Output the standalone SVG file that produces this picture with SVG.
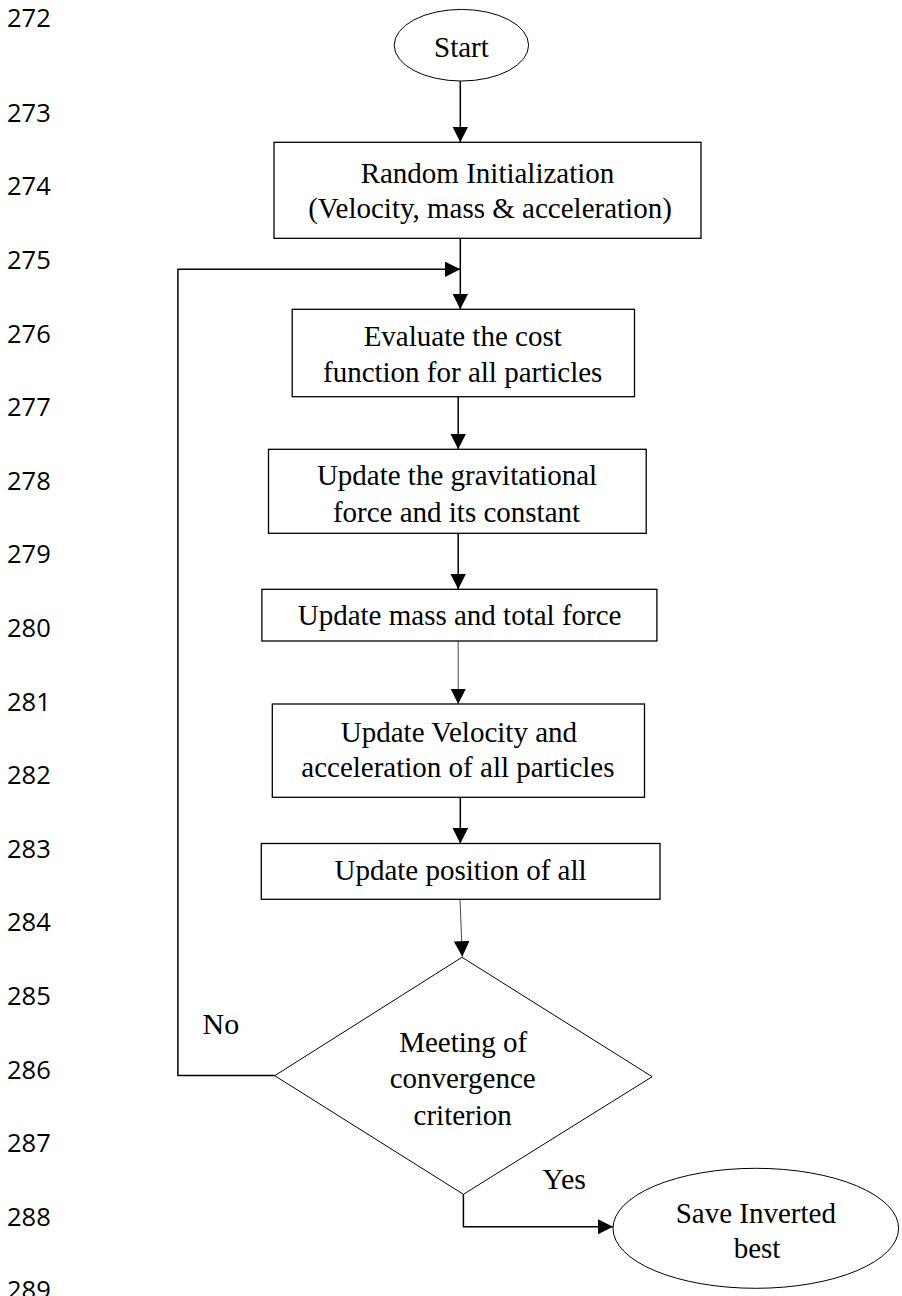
<svg xmlns="http://www.w3.org/2000/svg" width="902" height="1296" viewBox="0 0 902 1296">
<style>
.ln{font-family:"Open Sans","Liberation Sans",sans-serif;font-size:25.5px;fill:#000}
.t{font-family:"Liberation Serif","Times New Roman",serif;font-size:29px;fill:#000;text-anchor:middle}
.lb{font-family:"Liberation Serif","Times New Roman",serif;font-size:30px;fill:#000}
.box{fill:#fff;stroke:#000;stroke-width:1.3}
.shape{fill:#fff;stroke:#000;stroke-width:1}
.c{fill:none;stroke:#000;stroke-width:1.5}
.cthin{fill:none;stroke:#333;stroke-width:0.9}
</style>
<defs>
<marker id="ah" markerUnits="userSpaceOnUse" markerWidth="16" markerHeight="16" refX="15.5" refY="7.8" orient="auto" viewBox="0 0 16 16">
<path d="M0,0 L15.5,7.8 L0,15.6 z" fill="#000"/>
</marker>
</defs>
<rect width="902" height="1296" fill="#fff"/>
<g id="line-numbers">
<text class="ln" x="7" y="26.7">272</text>
<text class="ln" x="7" y="121.7">273</text>
<text class="ln" x="7" y="195.3">274</text>
<text class="ln" x="7" y="268.9">275</text>
<text class="ln" x="7" y="342.5">276</text>
<text class="ln" x="7" y="416.1">277</text>
<text class="ln" x="7" y="489.7">278</text>
<text class="ln" x="7" y="563.3">279</text>
<text class="ln" x="7" y="636.9">280</text>
<text class="ln" x="7" y="710.5">281</text>
<text class="ln" x="7" y="784.1">282</text>
<text class="ln" x="7" y="857.7">283</text>
<text class="ln" x="7" y="931.3">284</text>
<text class="ln" x="7" y="1004.9">285</text>
<text class="ln" x="7" y="1078.5">286</text>
<text class="ln" x="7" y="1152.1">287</text>
<text class="ln" x="7" y="1225.7">288</text>
<text class="ln" x="7" y="1299.3">289</text>
</g>
<g id="connectors">
<path class="c" d="M460.3,81 V142.3" marker-end="url(#ah)"/>
<path class="c" d="M460.3,238.3 V309.3" marker-end="url(#ah)"/>
<path class="c" d="M274.7,1075.5 H177.9 V269.3 H460.3" marker-end="url(#ah)"/>
<path class="c" d="M458.2,396.7 V449.3" marker-end="url(#ah)"/>
<path class="c" d="M458.2,533.3 V589.3" marker-end="url(#ah)"/>
<path class="cthin" d="M458.2,641 V704" marker-end="url(#ah)"/>
<path class="c" d="M460.3,797.3 V843.5" marker-end="url(#ah)"/>
<path class="cthin" d="M460,899.3 L462.3,956.7" marker-end="url(#ah)"/>
<path class="c" d="M463.4,1194.3 V1226.7 H613" marker-end="url(#ah)"/>
</g>
<g id="node-start">
<ellipse class="shape" cx="461.4" cy="45.2" rx="67.2" ry="35.8"/>
<text class="t" x="461.4" y="56.7">Start</text>
</g>
<g id="node-init">
<rect class="box" x="274" y="142.3" width="427" height="96"/>
<text class="t" x="487.5" y="183.3">Random Initialization</text>
<text class="t" x="490" y="218.3">(Velocity, mass &amp; acceleration)</text>
</g>
<g id="node-evaluate">
<rect class="box" x="292.2" y="309.3" width="342.3" height="87.4"/>
<text class="t" x="462.7" y="346">Evaluate the cost</text>
<text class="t" x="462.7" y="381.7">function for all particles</text>
</g>
<g id="node-gravity">
<rect class="box" x="268.5" y="449.3" width="377.7" height="84"/>
<text class="t" x="457" y="485">Update the gravitational</text>
<text class="t" x="456.5" y="521.7">force and its constant</text>
</g>
<g id="node-mass">
<rect class="box" x="261.9" y="589.3" width="395" height="51.7"/>
<text class="t" x="459.6" y="625">Update mass and total force</text>
</g>
<g id="node-velocity">
<rect class="box" x="272.3" y="704" width="372.2" height="93.3"/>
<text class="t" x="458.9" y="741.7">Update Velocity and</text>
<text class="t" x="457.9" y="776.7">acceleration of all particles</text>
</g>
<g id="node-position">
<rect class="box" x="261.3" y="843.5" width="398.7" height="55.8"/>
<text class="t" x="460.5" y="880">Update position of all</text>
</g>
<g id="node-decision">
<polygon class="shape" points="462,957.3 652.2,1076.7 463.4,1194.3 274.7,1075.7"/>
<text class="t" x="463.2" y="1052.3">Meeting of</text>
<text class="t" x="462.7" y="1088.3">convergence</text>
<text class="t" x="462.7" y="1125">criterion</text>
</g>
<g id="labels">
<text class="lb" x="202.5" y="1034">No</text>
<text class="lb" x="542.3" y="1189">Yes</text>
</g>
<g id="node-save">
<ellipse class="shape" cx="755.8" cy="1228.3" rx="142.8" ry="60"/>
<text class="t" x="755.8" y="1223.3">Save Inverted</text>
<text class="t" x="757" y="1258.3">best</text>
</g>
</svg>
